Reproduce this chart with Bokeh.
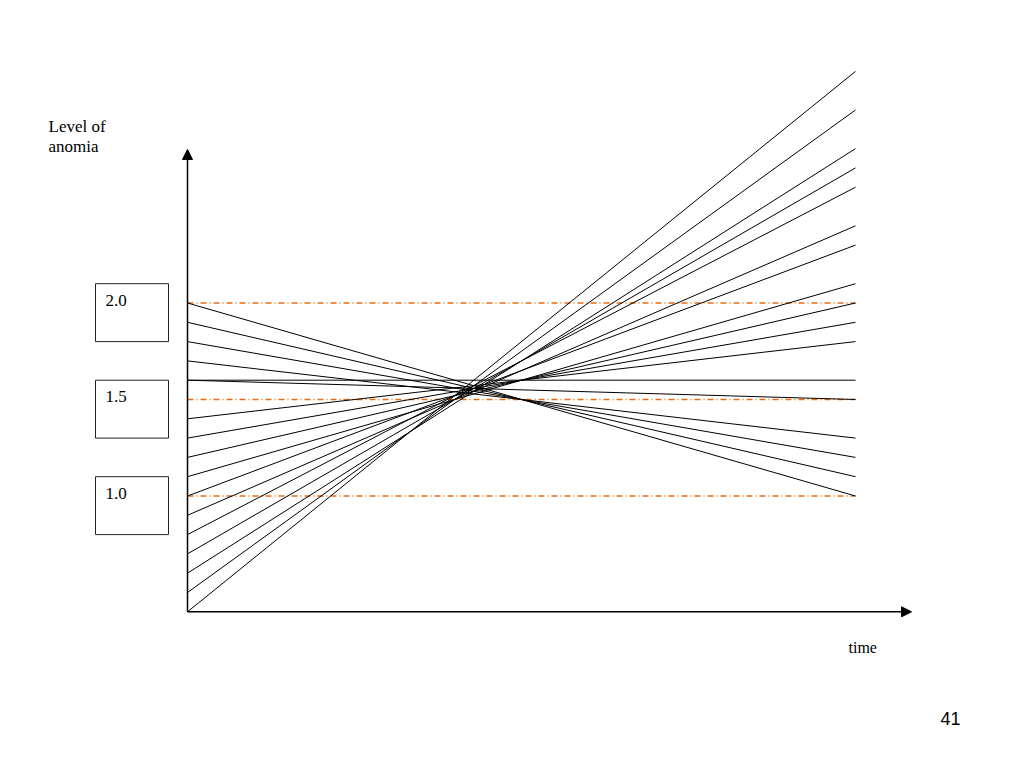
from bokeh.plotting import figure
from bokeh.models import Arrow, NormalHead, Range1d, Label, ColumnDataSource
from bokeh.embed import file_html
from bokeh.resources import INLINE

# ---- data ----
start_levels = [2.0, 1.9, 1.8, 1.7, 1.6, 1.6, 1.4, 1.3, 1.2, 1.1, 1.0, 0.9, 0.8, 0.7, 0.6, 0.5, 0.4]
end_levels = [1.0, 1.1, 1.2, 1.3, 1.5, 1.6, 1.8, 1.9, 2.0, 2.1, 2.3, 2.4, 2.6, 2.7, 2.8, 3.0, 3.2]
reference_levels = [2.0, 1.5, 1.0]
reference_labels = ["2.0", "1.5", "1.0"]
t_start, t_end = 0.0, 1.0
axis_level = 0.4

# ---- layout mapping (page pixels -> data units) ----
W, H = 1008, 752
X0 = 187              # px where t = 0
PX_PER_T = 668
Y2 = 302.5            # px (from top) where level = 2.0
PX_PER_LVL = 193


def fx(px):
    return (px - X0) / PX_PER_T


def fy(py):
    return 2.0 - (py - Y2) / PX_PER_LVL


p = figure(width=W, height=H, output_backend="svg", toolbar_location=None,
           x_range=Range1d(fx(0), fx(W)), y_range=Range1d(fy(H), fy(0)),
           min_border=0, outline_line_color=None)
p.xaxis.visible = False
p.yaxis.visible = False
p.grid.visible = False
p.background_fill_color = "white"
p.border_fill_color = "white"

# orange dash-dot reference lines
for lv in reference_levels:
    p.line(x=[t_start, t_end], y=[lv, lv],
           line_color="#E86E14", line_width=1.3, line_dash="6 3 1 3")

# trajectories
src = ColumnDataSource(dict(x0=[t_start] * len(start_levels), y0=start_levels,
                            x1=[t_end] * len(end_levels), y1=end_levels))
p.segment(x0="x0", y0="y0", x1="x1", y1="y1", source=src,
          line_color="black", line_width=1)

# axes with arrows
p.add_layout(Arrow(x_start=t_start, y_start=axis_level, x_end=t_start, y_end=fy(149),
                   line_color="black", line_width=1.5,
                   end=NormalHead(size=10, fill_color="black", line_color="black")))
p.add_layout(Arrow(x_start=t_start, y_start=axis_level, x_end=fx(911), y_end=axis_level,
                   line_color="black", line_width=1.5,
                   end=NormalHead(size=10, fill_color="black", line_color="black")))

# level boxes
p.quad(left=[fx(95)] * 3, right=[fx(168)] * 3,
       top=[lv + 0.1 for lv in reference_levels],
       bottom=[lv - 0.2 for lv in reference_levels],
       fill_color=None, line_color="#222222", line_width=1)

for lv, lab in zip(reference_levels, reference_labels):
    p.add_layout(Label(x=fx(105), y=lv + 0.015, text=lab, text_font="Liberation Serif",
                       text_font_size="17px", text_color="black", text_baseline="alphabetic"))

serif = dict(text_font="Liberation Serif", text_font_size="17px", text_color="black",
             text_baseline="alphabetic")
p.add_layout(Label(x=fx(48), y=fy(126), text="Level of", **serif))
p.add_layout(Label(x=fx(48), y=fy(146), text="anomia", **serif))
p.add_layout(Label(x=fx(848), y=fy(647), text="time", text_font="Liberation Serif",
                   text_font_size="16px", text_color="black", text_baseline="alphabetic"))
p.add_layout(Label(x=fx(940), y=fy(718), text="41", text_font="Liberation Sans",
                   text_font_size="18px", text_color="black", text_baseline="alphabetic"))

open("out.html", "w").write(file_html(p, INLINE))
